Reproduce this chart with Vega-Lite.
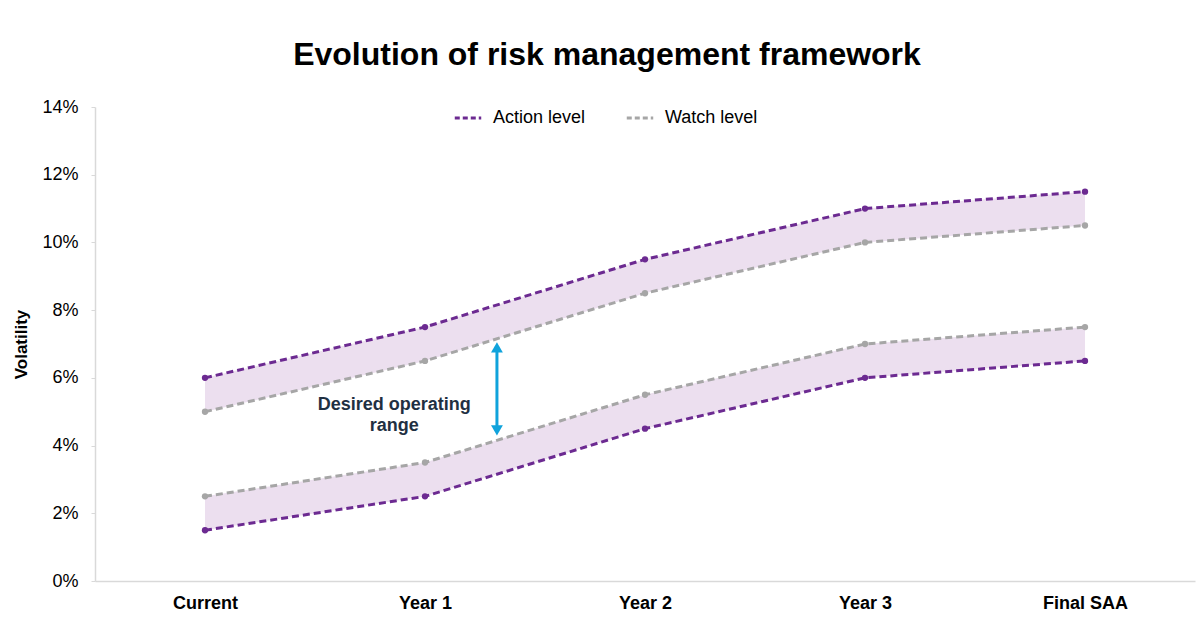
{
  "$schema": "https://vega.github.io/schema/vega-lite/v6.json",
  "width": 1100,
  "height": 474,
  "autosize": {"type": "none"},
  "padding": {"left": 95, "top": 107, "right": 5, "bottom": 40},
  "background": "white",
  "config": {"view": {"stroke": null}, "font": "Liberation Sans"},
  "title": {"text": "Evolution of risk management framework", "fontSize": 32, "fontWeight": "bold", "font": "Liberation Sans", "color": "#000000", "anchor": "middle", "frame": "group", "dx": -38, "offset": 26},
  "datasets": {
    "wide": [
      {"i": 0, "ua": 0.06, "uw": 0.05, "lw": 0.025, "la": 0.015},
      {"i": 1, "ua": 0.075, "uw": 0.065, "lw": 0.035, "la": 0.025},
      {"i": 2, "ua": 0.095, "uw": 0.085, "lw": 0.055, "la": 0.045},
      {"i": 3, "ua": 0.11, "uw": 0.10, "lw": 0.07, "la": 0.06},
      {"i": 4, "ua": 0.115, "uw": 0.105, "lw": 0.075, "la": 0.065}
    ],
    "long": [
      {"i": 0, "level": "Action level", "band": "upper", "v": 0.06},
      {"i": 1, "level": "Action level", "band": "upper", "v": 0.075},
      {"i": 2, "level": "Action level", "band": "upper", "v": 0.095},
      {"i": 3, "level": "Action level", "band": "upper", "v": 0.11},
      {"i": 4, "level": "Action level", "band": "upper", "v": 0.115},
      {"i": 0, "level": "Watch level", "band": "upper", "v": 0.05},
      {"i": 1, "level": "Watch level", "band": "upper", "v": 0.065},
      {"i": 2, "level": "Watch level", "band": "upper", "v": 0.085},
      {"i": 3, "level": "Watch level", "band": "upper", "v": 0.10},
      {"i": 4, "level": "Watch level", "band": "upper", "v": 0.105},
      {"i": 0, "level": "Watch level", "band": "lower", "v": 0.025},
      {"i": 1, "level": "Watch level", "band": "lower", "v": 0.035},
      {"i": 2, "level": "Watch level", "band": "lower", "v": 0.055},
      {"i": 3, "level": "Watch level", "band": "lower", "v": 0.07},
      {"i": 4, "level": "Watch level", "band": "lower", "v": 0.075},
      {"i": 0, "level": "Action level", "band": "lower", "v": 0.015},
      {"i": 1, "level": "Action level", "band": "lower", "v": 0.025},
      {"i": 2, "level": "Action level", "band": "lower", "v": 0.045},
      {"i": 3, "level": "Action level", "band": "lower", "v": 0.06},
      {"i": 4, "level": "Action level", "band": "lower", "v": 0.065}
    ],
    "arrow": [{"i": 1.327, "topHead": 0.069, "bottomHead": 0.0445}],
    "label": [{"i": 0.86, "y": 0.0521}]
  },
  "encoding": {
    "x": {
      "field": "i", "type": "quantitative",
      "scale": {"domain": [-0.5, 4.5], "nice": false, "zero": false},
      "axis": {
        "values": [0, 1, 2, 3, 4],
        "labelExpr": "['Current','Year 1','Year 2','Year 3','Final SAA'][datum.value]",
        "title": null, "grid": false, "ticks": false,
        "domainColor": "#d9d9d9", "domainWidth": 1.5,
        "labelFontSize": 18, "labelFontWeight": "bold", "labelColor": "#000000",
        "labelPadding": 13, "labelFont": "Liberation Sans"
      }
    }
  },
  "layer": [
    {
      "data": {"name": "wide"},
      "mark": {"type": "area", "color": "#ecdfef", "opacity": 1},
      "encoding": {
        "y": {"field": "ua", "type": "quantitative",
          "scale": {"domain": [0, 0.14], "nice": false},
          "axis": {
            "values": [0, 0.02, 0.04, 0.06, 0.08, 0.1, 0.12, 0.14],
            "format": ".0%", "grid": false, "title": "Volatility",
            "titleFontSize": 17, "titleFontWeight": "bold", "titleColor": "#000000", "titlePadding": 11,
            "titleFont": "Liberation Sans",
            "labelFontSize": 18, "labelColor": "#000000", "labelPadding": 13, "labelFont": "Liberation Sans",
            "domainColor": "#d9d9d9", "domainWidth": 1.5, "tickColor": "#d9d9d9", "tickSize": 4
          }
        },
        "y2": {"field": "uw"}
      }
    },
    {
      "data": {"name": "wide"},
      "mark": {"type": "area", "color": "#ecdfef", "opacity": 1},
      "encoding": {
        "y": {"field": "lw", "type": "quantitative"},
        "y2": {"field": "la"}
      }
    },
    {
      "data": {"name": "long"},
      "mark": {"type": "line", "strokeWidth": 3, "strokeDash": [7, 4], "point": {"filled": true, "size": 40, "opacity": 1}},
      "encoding": {
        "y": {"field": "v", "type": "quantitative"},
        "detail": {"field": "band"},
        "color": {
          "field": "level", "type": "nominal",
          "scale": {"domain": ["Action level", "Watch level"], "range": ["#6c2a91", "#a6a6a6"]},
          "legend": {
            "orient": "none", "legendX": 358, "legendY": -4, "direction": "horizontal",
            "title": null, "labelFontSize": 18, "labelColor": "#000000", "labelFont": "Liberation Sans",
            "symbolType": "stroke", "symbolStrokeWidth": 3, "symbolDash": [5, 3], "symbolSize": 700,
            "columnPadding": 34, "labelOffset": 10
          }
        }
      }
    },
    {
      "data": {"name": "arrow"},
      "mark": {"type": "rule", "color": "#10a3dc", "strokeWidth": 3},
      "encoding": {
        "y": {"field": "topHead", "type": "quantitative"},
        "y2": {"field": "bottomHead"}
      }
    },
    {
      "data": {"name": "arrow"},
      "mark": {"type": "point", "shape": "triangle-up", "filled": true, "color": "#10a3dc", "size": 140, "opacity": 1},
      "encoding": {
        "y": {"field": "topHead", "type": "quantitative"}
      }
    },
    {
      "data": {"name": "arrow"},
      "mark": {"type": "point", "shape": "triangle-down", "filled": true, "color": "#10a3dc", "size": 140, "opacity": 1},
      "encoding": {
        "y": {"field": "bottomHead", "type": "quantitative"}
      }
    },
    {
      "data": {"name": "label"},
      "mark": {"type": "text", "fontSize": 18, "fontWeight": "bold", "color": "#1f3042", "align": "center", "baseline": "middle", "lineHeight": 21, "font": "Liberation Sans"},
      "encoding": {
        "y": {"field": "y", "type": "quantitative"},
        "text": {"value": ["Desired operating", "range"]}
      }
    }
  ]
}
